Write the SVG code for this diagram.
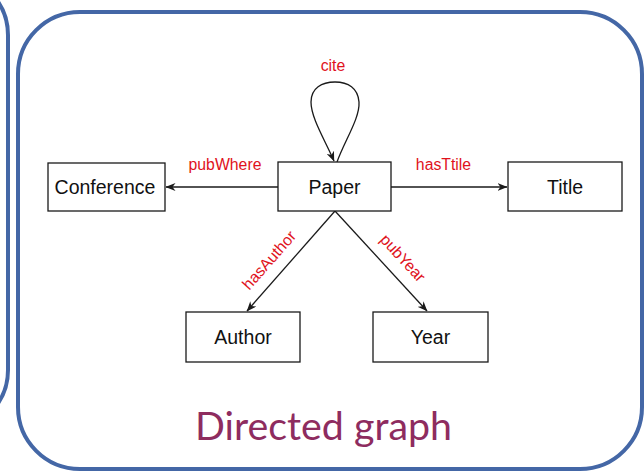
<svg xmlns="http://www.w3.org/2000/svg" width="644" height="473" viewBox="0 0 644 473">
<style>
.frame{fill:none;stroke:#4467a6;stroke-width:4}
.box{fill:#fff;stroke:#1a1a1a;stroke-width:1.3}
.nt{font-family:"Liberation Sans",Arial,sans-serif;font-size:19.5px;fill:#111;text-anchor:middle}
.lbl{font-family:"Liberation Sans",Arial,sans-serif;font-size:15.8px;fill:#e0121c;text-anchor:middle}
.edge{fill:none;stroke:#1a1a1a;stroke-width:1.3;marker-end:url(#ah)}
.title{font-family:Lato,"Open Sans",sans-serif;font-size:38px;fill:#8e2c5f;text-anchor:middle}
</style>
<defs>
<marker id="ah" viewBox="0 0 10 8" refX="9.5" refY="4" markerWidth="10" markerHeight="8" markerUnits="userSpaceOnUse" orient="auto">
<path d="M0,0 L10,4 L0,8 L3,4 z" fill="#1a1a1a"/>
</marker>
</defs>
<rect width="644" height="473" fill="#fff"/>
<g id="frames">
<rect class="frame" x="-300" y="-25" width="308" height="455" rx="60"/>
<rect class="frame" x="18" y="12" width="624" height="457" rx="62"/>
</g>
<g id="connectors">
<path class="edge" d="M337,162 C345,140 360,118 359,102 C358,88 348,82 335,82 C322,82 311,88 311,102 C311,118 325,140 334,161"/>
<path class="edge" d="M278,187 L166,187"/>
<path class="edge" d="M391,187 L507,187"/>
<path class="edge" d="M335,211 L247,311"/>
<path class="edge" d="M335,211 L427,311"/>
<text class="lbl" x="333" y="70.5">cite</text>
<text class="lbl" x="225" y="170">pubWhere</text>
<text class="lbl" x="443.5" y="170">hasTtile</text>
<text class="lbl" transform="translate(269,260) rotate(-48.6)" y="5.5">hasAuthor</text>
<text class="lbl" transform="translate(403,258) rotate(47.4)" y="5.5">pubYear</text>
</g>
<g id="paper"><rect class="box" x="278" y="162" width="113" height="49"/><text class="nt" x="334.5" y="194">Paper</text></g>
<g id="conference"><rect class="box" x="48" y="163" width="117" height="48"/><text class="nt" x="105" y="194">Conference</text></g>
<g id="title"><rect class="box" x="508" y="162" width="114" height="49"/><text class="nt" x="565" y="194">Title</text></g>
<g id="author"><rect class="box" x="186" y="312" width="114" height="50"/><text class="nt" x="243" y="344">Author</text></g>
<g id="year"><rect class="box" x="373" y="312" width="115" height="50"/><text class="nt" x="430.5" y="344">Year</text></g>
<text class="title" x="323.5" y="440" textLength="257" lengthAdjust="spacingAndGlyphs">Directed graph</text>
</svg>
